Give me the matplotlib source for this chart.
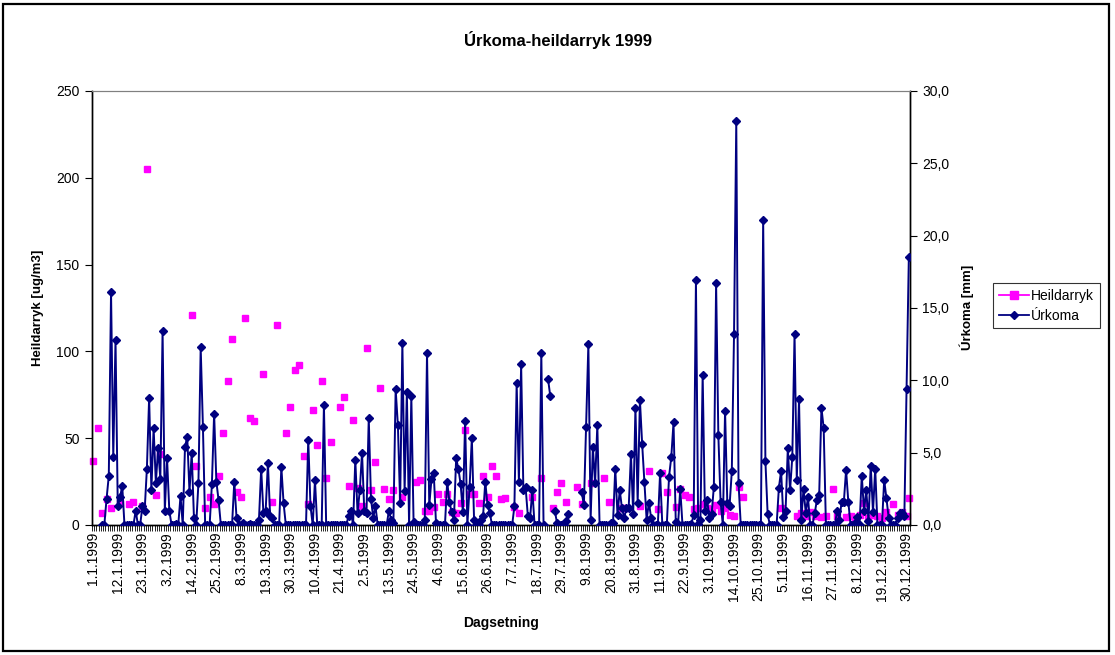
#!/usr/bin/env python3
import matplotlib

matplotlib.use("Agg")
import matplotlib.pyplot as plt  # noqa: E402
import numpy as np  # noqa: E402
import pandas as pd  # noqa: E402
from matplotlib.lines import Line2D  # noqa: E402
from matplotlib.patches import Rectangle  # noqa: E402
from matplotlib.ticker import FixedLocator, FuncFormatter  # noqa: E402

# Daily precipitation [mm], one list per month (None = no measurement)
RAIN_JAN = [None, None, None, None, 0, 0, 1.8, 3.4, 16.1, 4.7, 12.8, 1.3, 1.9, 2.7, 0, 0,
            0, 0, 0, 1.0, 0, 0, 1.3, 1.0, 3.9, 8.8, 2.4, 6.7, 2.9, 5.3, 3.2]
RAIN_FEB = [13.4, 1.0, 4.6, 1.0, 0, 0, 0.1, 0, 2.0, 0, 5.4, 6.1, 2.3, 5.0, 0.5, 0, 2.9,
            12.3, 6.8, 0, 0, 0, 2.8, 7.7, 3.0, 1.7, 0, 0]
RAIN_MAR = [0, 0, 0, 0, 3.0, 0.5, 0, 0, 0.15, 0, 0, 0.1, 0, 0, 0, 0.35, 3.9, 0.8, 1.0, 4.3,
            0.6, 0.5, 0, 0, 0, 4.0, 1.5, 0, 0, 0, 0]
RAIN_APR = [0, 0, 0, 0, 0, 0, 5.9, 1.3, 0, 3.1, 0, 0, 0, 8.3, 0, 0, 0, 0, 0, 0, 0, 0, 0, 0,
            0.65, 1.0, 0, 4.5, 0.85, 2.4]
RAIN_MAY = [5.0, 1.0, 0.85, 7.4, 1.8, 0.5, 1.3, 0, 0, 0, 0, 0, 1.0, 0.35, 0.15, 9.4, 6.9,
            1.55, 12.6, 2.35, 9.2, 0, 8.9, 0.2, 0, 0, 0, 0, 0.35, 11.9, 1.35]
RAIN_JUN = [3.2, 3.6, 0.15, 0, 0, 0, 0, 3.0, 1.6, 0.9, 0.35, 4.6, 3.9, 2.8, 0.9, 7.2, 0,
            2.65, 6.0, 0.35, 0, 0, 0.35, 0.6, 3.0, 1.35, 0.85, 0, 0, 0]
RAIN_JUL = [0, 0, 0, 0, 0, 0, 0, 1.3, 9.8, 3.0, 11.1, 2.4, 2.6, 0.6, 0.5, 2.4, 0, 0, 0,
            11.9, 0, None, 10.1, 8.9, None, 1.0, 0.15, 0, 0, 0, 0.3]
RAIN_AUG = [0.76, None, None, None, None, None, 2.3, 1.35, 6.8, 12.5, 0.35, 5.4, 2.9, 6.9,
            0, 0, 0, 0, 0, 0.15, 0.15, 3.9, 0.7, 2.4, 1.15, 0.5, 1.15, 1.2, 4.9, 0.75, 8.1]
RAIN_SEP = [1.55, 8.65, 5.6, 2.95, 0.35, 1.55, 0.5, 0, 0, 0, 3.6, 0, 0, 0, 3.35, 4.7, 7.1,
            0.2, 0, 2.5, 0, 0, 0, 0, 0.1, 0.7, 16.9, 0.1, 0.35, 10.4]
RAIN_OCT = [1.0, 1.7, 0.5, 0.75, 2.65, 16.7, 6.2, 1.6, 0, 7.9, 1.5, 1.3, 3.7, 13.2, 27.9,
            2.9, 0, 0, 0, 0, 0, 0, 0, 0, 0, 0, 21.1, 4.4, 0.75, 0, 0]
RAIN_NOV = [0, 0, 2.55, 3.75, 0.55, 1.0, 5.3, 2.4, 4.7, 13.2, 3.1, 8.7, 0.35, 2.5, 0.85,
            1.9, 0, 0, 0.8, 1.75, 2.1, 8.1, 6.7, 0, 0, 0, 0, 0, 1.0, 0.35]
RAIN_DEC = [1.6, 1.6, 3.8, 1.6, 0, 0, 0.15, 0.55, 0, 3.4, 1.0, 2.4, 0.3, 4.1, 0.9, 3.9, 0,
            0, 0, 3.1, 1.85, 0.5, 0, 0, 0, 0.5, 0.85, 0.8, 0.6, 9.4, 18.5]

# Total suspended dust [ug/m3], sampled roughly every other day
DUST_JAN = [37, None, 56, None, 7, None, 15, None, 10, None, None, None, 12.5, None, None,
            None, 12, None, 13.5, None, None, None, 11, None, 205, None, None, None, 17,
            None, 41]
DUST_FEB = [None] * 13 + [121, None, 34, None, None, None, 10, None, 16, None, 12, None,
                          28.5, None, 53]
DUST_MAR = [None, 83, None, 107, None, 19, None, 16, None, 119, None, 61.5, None, 60, None,
            None, None, 87, None, None, None, 13, None, 115, None, None, None, 53, None, 68,
            None]
DUST_APR = [89, None, 92, None, 40, None, 12, None, 66, None, 46, None, 83, None, 27, None,
            48, None, None, None, 68, None, 74, None, 22.5, None, 60.5, None, 21.5, None]
DUST_MAY = [11, None, 102, None, 20, None, 36, None, 79, None, 21, None, 15, None, 20, None,
            None, None, 16, None, None, None, None, None, 24.6, None, 26, None, 8, None, 8]
DUST_JUN = [None, 10.6, None, 18, None, 13.5, None, 18, None, 7.7, None, 7, None, 12.5,
            None, 55, None, 18, None, 18, None, 12.5, None, 28, None, 16, None, 34, None, 28]
DUST_JUL = [None, 15, None, 15.4, None, None, None, 10.6, None, 7, None, None, None, None,
            None, 16, None, None, None, 27, None, None, None, None, 9.6, None, 19, None,
            24.4, None, 13]
DUST_AUG = [None, None, None, None, 21.7, None, 12, None, None, None, 24.4, None, None, None,
            None, None, 27, None, 13.5, None, None, None, None, None, 9.6, None, 9.6, None,
            None, None, None]
DUST_SEP = [None, 11, None, None, None, 31, None, None, None, 9, None, 30, None, 19, None,
            None, None, 10.6, None, 21, None, 17, None, 16, None, 9, None, 10, None, 12]
DUST_OCT = [None, 10, None, 9, None, 11.5, None, 8, None, 10, None, 6, None, 5, None, 22,
            None, 16] + [None] * 13
DUST_NOV = [None, None, None, 10, None, None, None, None, None, None, 5, None, 7, None, 5,
            None, 7.7, None, 5, None, None, 4.8, None, 5, None, None, 21, None, 5, None]
DUST_DEC = [None, None, 4.8, None, 5, None, 4, None, 6, None, 12.5, None, 4, None, 6, None,
            5, None, 4, None, 7.7, None, None, 12, None, 6, None, 7.7, None, 5, 15.4]

RAIN_MONTHS = [RAIN_JAN, RAIN_FEB, RAIN_MAR, RAIN_APR, RAIN_MAY, RAIN_JUN,
               RAIN_JUL, RAIN_AUG, RAIN_SEP, RAIN_OCT, RAIN_NOV, RAIN_DEC]
DUST_MONTHS = [DUST_JAN, DUST_FEB, DUST_MAR, DUST_APR, DUST_MAY, DUST_JUN,
               DUST_JUL, DUST_AUG, DUST_SEP, DUST_OCT, DUST_NOV, DUST_DEC]

LABEL_STEP = 11
FONT = "Liberation Sans"
PINK = "#FF00FF"
NAVY = "#000080"


def _flatten(months):
    out = []
    for m in months:
        out.extend(m)
    return np.array(out, dtype=float)


def main() -> int:
    plt.rcParams["font.family"] = FONT
    dates = pd.date_range("1999-01-01", "1999-12-31", freq="D")
    rain = _flatten(RAIN_MONTHS)
    dust = _flatten(DUST_MONTHS)
    days = np.arange(len(dates))

    fig = plt.figure(figsize=(11.15, 6.55), dpi=100)
    ax = fig.add_axes([0.0825, 0.1985, 0.7336, 0.6626])
    ax2 = ax.twinx()

    ax.plot(days, dust, ls="none", marker="s", ms=4.8, color=PINK, mec=PINK, zorder=2,
            clip_on=False)
    ax2.plot(days, rain, color=NAVY, lw=1.4, marker="D", ms=4.4, mec=NAVY, mfc=NAVY, zorder=3)

    ax.set_xlim(-0.5, len(days) - 0.5)
    ax.set_ylim(0, 250)
    ax2.set_ylim(0, 30)

    # category labels every 11 days, tick marks between every day
    label_pos = days[::LABEL_STEP]
    ax.xaxis.set_major_locator(FixedLocator(label_pos))
    ax.set_xticklabels([f"{d.day}.{d.month}.{d.year}" for d in dates[::LABEL_STEP]],
                       rotation=90, fontsize=10)
    ax.xaxis.set_minor_locator(FixedLocator(np.arange(-0.5, len(days), 1.0)))
    ax.tick_params(axis="x", which="major", length=0, pad=5)
    ax.tick_params(axis="x", which="minor", length=4, width=0.6, color="black")

    ax.set_yticks(np.arange(0, 251, 50))
    ax.tick_params(axis="y", length=5, width=0.8, labelsize=10, pad=4)
    ax2.set_yticks(np.arange(0, 31, 5))
    ax2.yaxis.set_major_formatter(FuncFormatter(lambda v, _p: f"{v:.1f}".replace(".", ",")))
    ax2.tick_params(axis="y", length=5, width=0.8, labelsize=10, pad=4)

    for a in (ax, ax2):
        a.spines["top"].set_color("#808080")
        a.spines["left"].set_linewidth(1.0)
        a.spines["right"].set_linewidth(1.0)
        a.spines["bottom"].set_linewidth(1.0)

    fig.text(0.5, 0.939, "Úrkoma-heildarryk 1999", ha="center", va="center",
             fontsize=12, fontweight="bold")
    fig.text(0.034, 0.53, "Heildarryk [ug/m3]", rotation=90, ha="center", va="center",
             fontsize=9.5, fontweight="bold")
    fig.text(0.867, 0.53, "Úrkoma [mm]", rotation=90, ha="center", va="center",
             fontsize=9.5, fontweight="bold")
    fig.text(0.449, 0.049, "Dagsetning", ha="center", va="center",
             fontsize=10, fontweight="bold")

    handles = [
        Line2D([], [], color=PINK, lw=1.3, marker="s", ms=5.5, mec=PINK),
        Line2D([], [], color=NAVY, lw=1.3, marker="D", ms=4, mec=NAVY),
    ]
    leg = fig.legend(handles, ["Heildarryk", "Úrkoma"], loc="upper left",
                     bbox_to_anchor=(0.8906, 0.568), frameon=True, fancybox=False,
                     edgecolor="black", fontsize=10, handlelength=2.2, handletextpad=0.15,
                     borderpad=0.4, labelspacing=0.45, borderaxespad=0)
    leg.get_frame().set_linewidth(0.8)

    fig.patches.append(Rectangle((0.003, 0.006), 0.992, 0.988, transform=fig.transFigure,
                                 fill=False, edgecolor="black", linewidth=1.6))

    fig.savefig("out.png", dpi=100)
    plt.close(fig)
    return 0


if __name__ == "__main__":
    raise SystemExit(main())
